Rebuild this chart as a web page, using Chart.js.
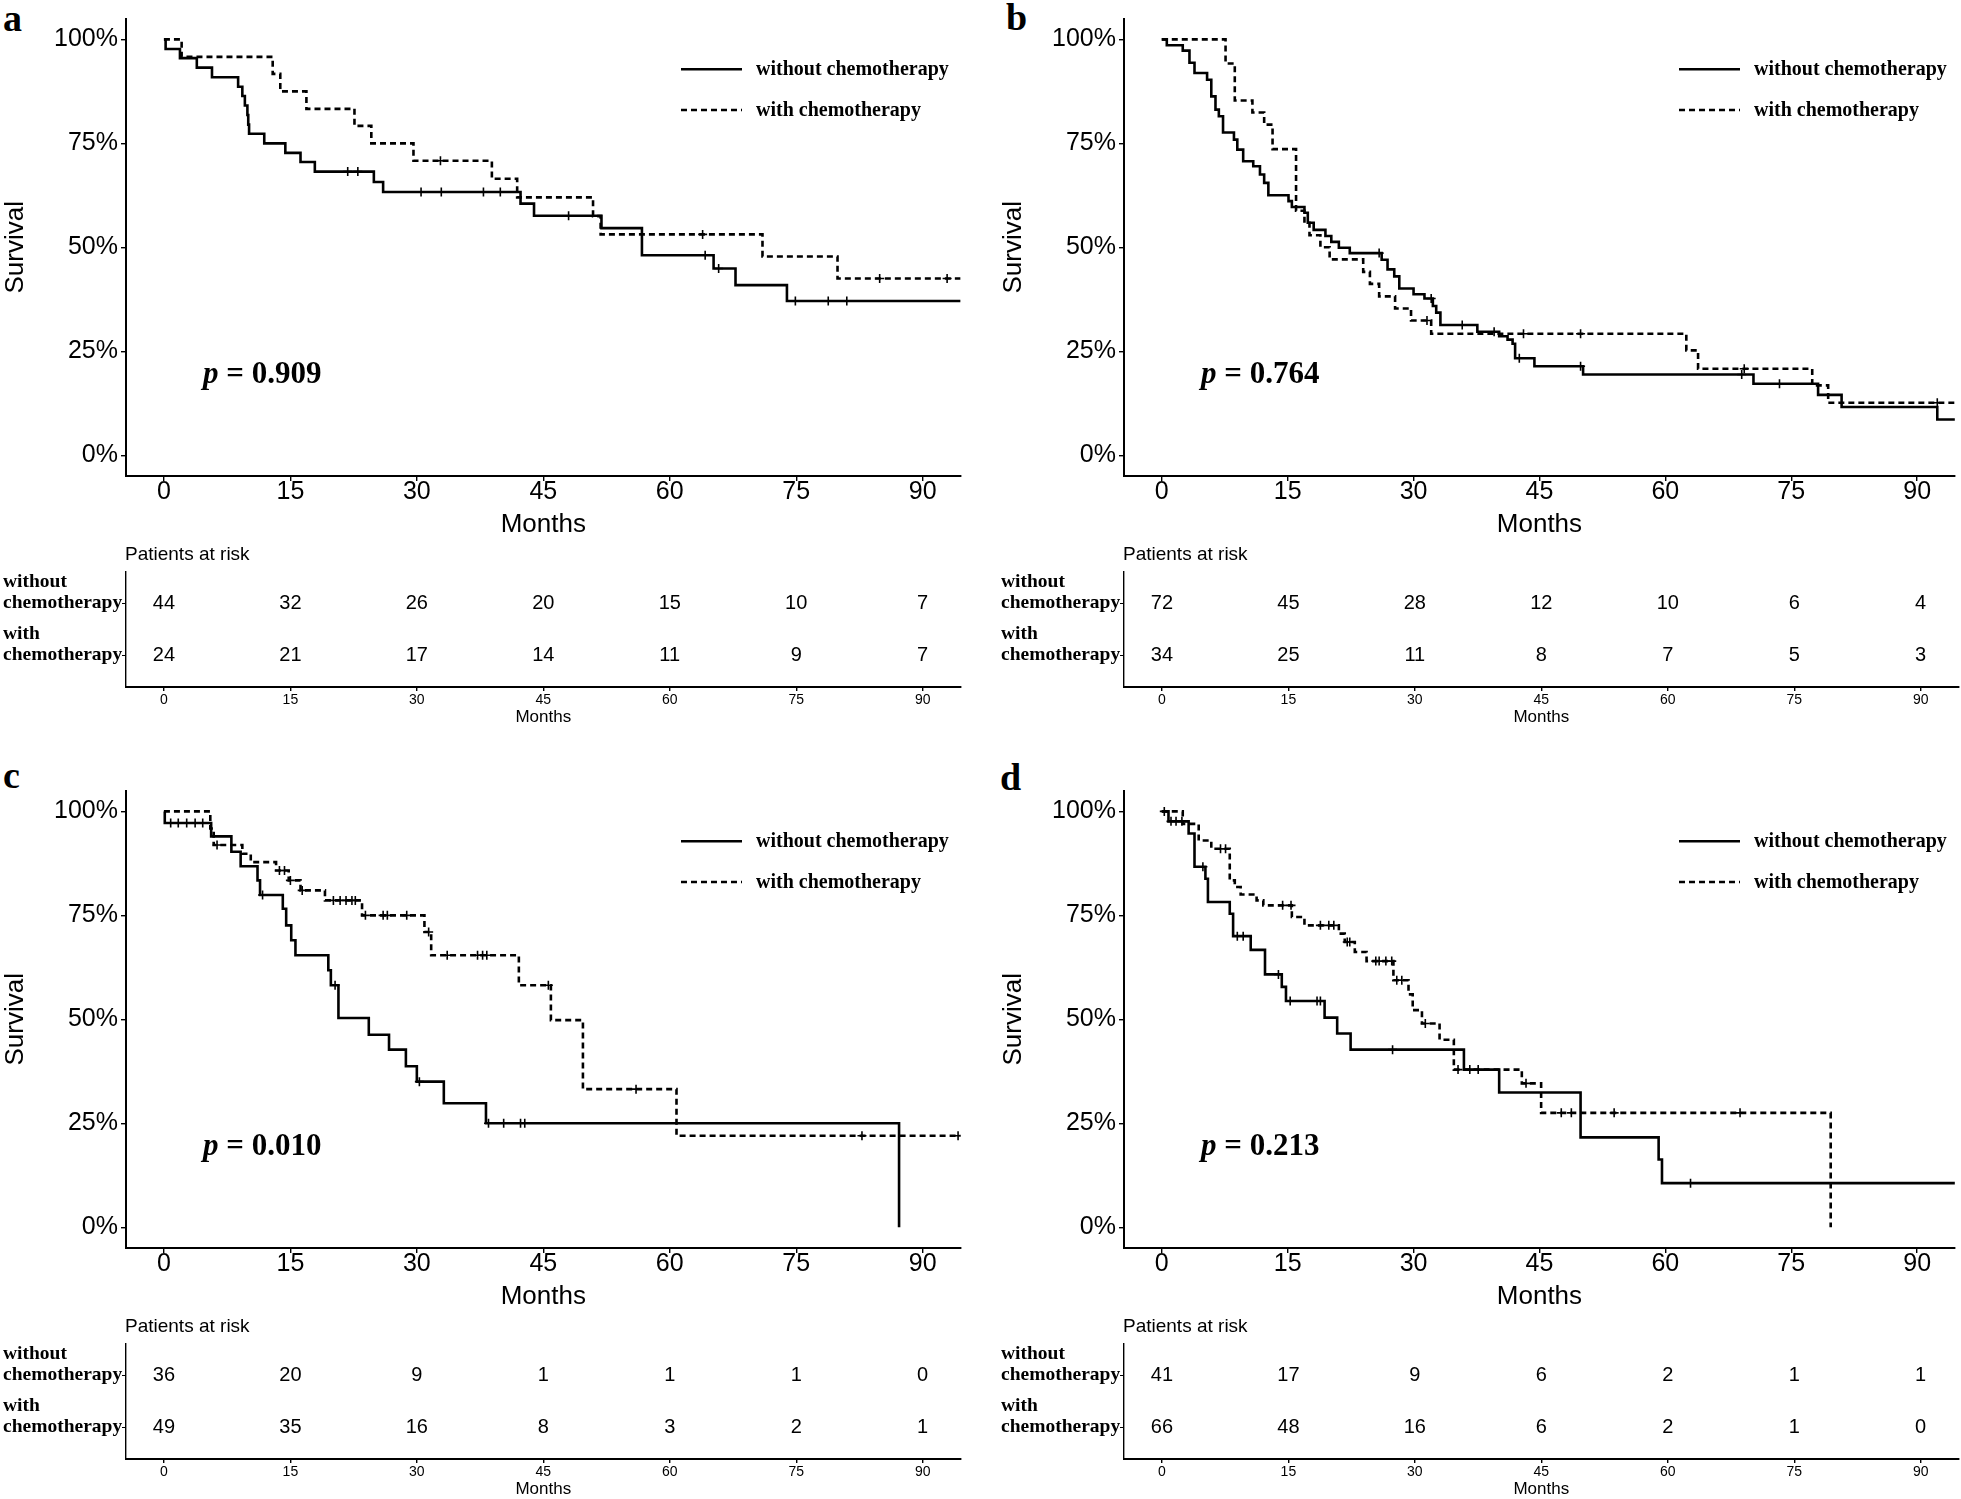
<!DOCTYPE html>
<html>
<head>
<meta charset="utf-8">
<script src="https://cdn.jsdelivr.net/npm/chart.js@4.4.1/dist/chart.umd.min.js"></script>
<style>
  body { margin: 0; background: #fff; width: 1961px; height: 1499px; position: relative; overflow: hidden; }
  canvas { position: absolute; }
  .tag { position: absolute; font: bold 38px "Liberation Serif"; line-height: 38px; color: #000; }
</style>
</head>
<body>
<div class="tag" style="left:3px;top:-1px">a</div>
<div class="tag" style="left:1006px;top:-2px">b</div>
<div class="tag" style="left:3px;top:756px">c</div>
<div class="tag" style="left:1000px;top:758px">d</div>
<script>
// axis ticks shared by all panels
const xTicks = [0, 15, 30, 45, 60, 75, 90];
const yTicks = [0, 25, 50, 75, 100];
const groupLabels = ['without chemotherapy', 'with chemotherapy'];
const rowLabels = [['with', 'chemotherapy'], ['without', 'chemotherapy']];

// panel a
const aNoT = [0, 0.2, 1.9, 3.9, 5.7, 8.8, 9.3, 9.6, 9.9, 10.0, 10.1, 11.9, 14.4, 16.2, 17.9, 24.9, 26.0, 42.3, 43.9, 51.9, 56.7, 65.2, 67.8, 73.9, 94.5];
const aNoS = [100, 97.7, 95.5, 93.2, 90.9, 88.6, 86.4, 84.1, 81.8, 79.5, 77.3, 75.0, 72.7, 70.5, 68.2, 65.7, 63.3, 60.5, 57.6, 54.6, 48.1, 44.9, 40.9, 37.1, 37.1];
const aNoC = [21.8, 23.0, 30.5, 32.9, 37.9, 39.9, 48.0, 64.2, 65.8, 74.9, 78.8, 81.0];
const aYesT = [0, 2.1, 12.9, 13.8, 16.9, 22.6, 24.6, 29.6, 38.9, 41.9, 50.9, 51.8, 71.0, 79.9, 94.5];
const aYesS = [100, 95.8, 91.7, 87.5, 83.3, 79.2, 75.0, 70.8, 66.5, 62.0, 57.5, 53.1, 47.8, 42.5, 42.5];
const aYesC = [32.8, 63.9, 84.9, 92.9];
const aRiskNo = [44, 32, 26, 20, 15, 10, 7];
const aRiskYes = [24, 21, 17, 14, 11, 9, 7];

// panel b
const bNoT = [0, 0.6, 2.5, 3.3, 3.9, 5.4, 5.9, 6.4, 6.8, 7.3, 8.6, 9.0, 9.7, 10.9, 11.7, 12.2, 12.7, 15.1, 15.5, 17.0, 17.4, 18.1, 19.5, 20.2, 21.1, 22.4, 26.2, 26.9, 27.7, 28.3, 30.0, 31.3, 32.3, 32.7, 33.2, 37.6, 40.2, 41.2, 41.8, 42.1, 44.4, 50.2, 70.5, 78.2, 81.0, 92.4, 94.5];
const bNoS = [100, 98.6, 97.3, 94.4, 91.9, 90.3, 86.3, 83.1, 81.5, 77.6, 75.9, 73.5, 70.7, 69.5, 67.5, 65.5, 62.5, 61.1, 59.7, 58.3, 55.9, 54.2, 52.7, 51.3, 49.9, 48.6, 47.0, 44.7, 43.0, 40.1, 38.7, 37.7, 35.9, 34.3, 31.3, 29.7, 28.6, 27.8, 26.8, 23.3, 21.4, 19.4, 17.2, 14.5, 11.6, 8.6, 8.6];
const bNoC = [25.9, 32.1, 35.8, 39.6, 42.6, 49.9, 69.1, 73.6];
const bYesT = [0, 7.6, 8.7, 10.8, 12.2, 13.2, 16.0, 17.0, 17.6, 18.9, 20.0, 24.0, 24.8, 25.9, 27.8, 29.7, 32.1, 62.5, 63.9, 77.5, 79.4, 94.5];
const bYesS = [100, 94.2, 85.3, 82.4, 79.5, 73.6, 58.8, 55.9, 52.9, 50.0, 47.1, 44.1, 41.2, 38.2, 35.3, 32.4, 29.2, 25.2, 20.8, 16.8, 12.6, 12.6];
const bYesC = [31.6, 43.1, 49.9, 69.4, 92.4];
const bRiskNo = [72, 45, 28, 12, 10, 6, 4];
const bRiskYes = [34, 25, 11, 8, 7, 5, 3];

// panel c
const cNoT = [0, 0.1, 5.6, 8.0, 9.1, 11.1, 11.4, 14.1, 14.5, 15.1, 15.6, 19.5, 19.8, 20.7, 24.3, 26.7, 28.7, 30.0, 33.2, 38.2, 87.2];
const cNoS = [100, 97.2, 94.0, 90.3, 86.8, 83.4, 79.9, 76.6, 72.6, 69.0, 65.4, 61.8, 58.2, 50.3, 46.3, 42.7, 38.7, 35.0, 29.8, 25.0, 0];
const cNoC = [0.8, 1.7, 2.7, 3.7, 4.6, 11.7, 20.3, 30.3, 38.5, 40.3, 42.3, 42.8];
const cYesT = [0, 5.5, 5.9, 9.3, 10.3, 13.3, 14.8, 16.2, 19.1, 23.5, 30.9, 31.7, 42.1, 45.9, 49.7, 60.8, 94.5];
const cYesS = [100, 95.9, 91.9, 89.8, 87.8, 85.8, 83.4, 81.0, 78.6, 75.0, 71.0, 65.4, 58.2, 49.8, 33.2, 22.0, 22.0];
const cYesC = [6.3, 13.7, 14.3, 15.0, 16.4, 20.1, 20.9, 21.6, 22.3, 22.7, 23.9, 26.0, 26.5, 28.8, 31.4, 33.6, 37.2, 37.8, 38.3, 45.6, 56.0, 82.8, 94.2];
const cRiskNo = [36, 20, 9, 1, 1, 1, 0];
const cRiskYes = [49, 35, 16, 8, 3, 2, 1];

// panel d
const dNoT = [0, 0.8, 3.2, 3.9, 5.2, 5.5, 8.1, 8.5, 10.6, 12.3, 14.3, 14.8, 19.4, 20.9, 22.5, 36.0, 40.2, 49.9, 59.2, 59.6, 94.5];
const dNoS = [100, 97.6, 94.7, 86.7, 83.8, 78.2, 75.4, 70.0, 66.7, 60.8, 57.8, 54.4, 50.4, 46.6, 42.7, 37.9, 32.4, 21.6, 16.3, 10.6, 10.6];
const dNoC = [0.3, 1.1, 1.7, 2.4, 4.9, 9.0, 9.7, 13.9, 15.3, 18.5, 18.9, 27.5, 63.0];
const dYesT = [0, 2.5, 4.4, 5.9, 8.1, 8.7, 9.4, 11.3, 12.1, 15.5, 17.0, 21.1, 21.8, 23.0, 24.4, 27.6, 29.4, 29.9, 31.0, 33.1, 34.8, 42.9, 45.2, 79.7];
const dYesS = [100, 97.0, 93.0, 91.0, 83.4, 81.8, 80.0, 78.6, 77.4, 74.6, 72.6, 70.6, 68.6, 66.2, 64.0, 59.4, 56.0, 52.2, 49.0, 45.1, 37.9, 34.6, 27.5, 0];
const dYesC = [7.0, 7.6, 14.4, 15.4, 18.9, 19.9, 20.5, 22.1, 22.4, 25.5, 25.9, 26.7, 27.4, 28.0, 28.6, 31.4, 35.3, 36.7, 37.7, 43.4, 47.6, 48.8, 53.9, 68.9];
const dRiskNo = [41, 17, 9, 6, 2, 1, 1];
const dRiskYes = [66, 48, 16, 6, 2, 1, 0];

const panels = [
  { left: 0,   top: 0,   w: 980, p: '0.909', noT: aNoT, noS: aNoS, noC: aNoC, yesT: aYesT, yesS: aYesS, yesC: aYesC, riskNo: aRiskNo, riskYes: aRiskYes },
  { left: 998, top: 0,   w: 963, p: '0.764', noT: bNoT, noS: bNoS, noC: bNoC, yesT: bYesT, yesS: bYesS, yesC: bYesC, riskNo: bRiskNo, riskYes: bRiskYes },
  { left: 0,   top: 772, w: 980, p: '0.010', noT: cNoT, noS: cNoS, noC: cNoC, yesT: cYesT, yesS: cYesS, yesC: cYesC, riskNo: cRiskNo, riskYes: cRiskYes },
  { left: 998, top: 772, w: 963, p: '0.213', noT: dNoT, noS: dNoS, noC: dNoC, yesT: dYesT, yesS: dYesS, yesC: dYesC, riskNo: dRiskNo, riskYes: dRiskYes }
];

const xMin = -4.5, xMax = 94.5;
const plotWidth = 834.6;   // pixel width of the plotting area

Chart.defaults.font.family = '"Liberation Sans", Arial, sans-serif';
Chart.defaults.color = '#000';

function steps(T, S) { return T.map((t, i) => ({ x: t, y: S[i] })); }
// censor marks sit on the curve: take the survival level in force at that time
function marks(T, S, C) {
  return C.map(c => {
    let s = S[0];
    for (let i = 0; i < T.length; i++) if (T[i] <= c) s = S[i];
    return { x: c, y: s };
  });
}

function makeCanvas(left, top, w, h) {
  const cv = document.createElement('canvas');
  cv.width = w; cv.height = h;
  cv.style.left = left + 'px'; cv.style.top = top + 'px';
  cv.style.width = w + 'px'; cv.style.height = h + 'px';
  document.body.appendChild(cv);
  return cv;
}

// legend + p value inside the survival plot
const kmDecor = {
  id: 'kmDecor',
  afterDatasetsDraw(chart, args, opts) {
    const ctx = chart.ctx, a = chart.chartArea;
    ctx.save();
    ctx.fillStyle = '#000'; ctx.strokeStyle = '#000';
    [0, 1].forEach(i => {
      const ds = chart.data.datasets[i];
      const y = a.top + 50.7 + i * 40.7;
      ctx.lineWidth = ds.borderWidth;
      ctx.setLineDash(ds.borderDash || []);
      ctx.beginPath(); ctx.moveTo(a.left + 555, y); ctx.lineTo(a.left + 616, y); ctx.stroke();
      ctx.setLineDash([]);
      ctx.font = 'bold 20px "Liberation Serif"';
      ctx.textAlign = 'left'; ctx.textBaseline = 'middle';
      ctx.fillText(ds.label, a.left + 630, y + 1);
    });
    ctx.textBaseline = 'alphabetic';
    ctx.font = 'italic bold 31px "Liberation Serif"';
    ctx.fillText('p', a.left + 77, a.top + 364);
    const w = ctx.measureText('p').width;
    ctx.font = 'bold 31px "Liberation Serif"';
    ctx.fillText(' = ' + opts.p, a.left + 77 + w, a.top + 364);
    ctx.restore();
  }
};

// numbers at risk + table heading
const riskText = {
  id: 'riskText',
  afterDatasetsDraw(chart) {
    const ctx = chart.ctx, a = chart.chartArea;
    ctx.save();
    ctx.fillStyle = '#000';
    ctx.font = '20px "Liberation Sans"';
    ctx.textAlign = 'center'; ctx.textBaseline = 'middle';
    chart.data.datasets.forEach((ds, i) => {
      chart.getDatasetMeta(i).data.forEach((pt, j) => ctx.fillText(String(ds.data[j].n), pt.x, pt.y));
    });
    ctx.font = '19px "Liberation Sans"';
    ctx.textAlign = 'left';
    ctx.fillText('Patients at risk', a.left - 1, a.top - 17);
    ctx.restore();
  }
};

const axisGrid = { drawOnChartArea: false, drawTicks: true, tickLength: 5, color: '#000', lineWidth: 1.4 };
const axisBorder = { display: true, color: '#000', width: 2 };

panels.forEach(pn => {
  const padRight = pn.w - 126 - plotWidth;

  new Chart(makeCanvas(pn.left, pn.top, pn.w, 545), {
    type: 'scatter',
    data: {
      datasets: [
        { label: groupLabels[0], data: steps(pn.noT, pn.noS), showLine: true, stepped: true,
          borderColor: '#000', borderWidth: 2.6, pointRadius: 0 },
        { label: groupLabels[1], data: steps(pn.yesT, pn.yesS), showLine: true, stepped: true,
          borderColor: '#000', borderWidth: 2.6, borderDash: [6, 4], pointRadius: 0 },
        { data: marks(pn.noT, pn.noS, pn.noC), pointStyle: 'cross', pointRadius: 4.5,
          borderColor: '#000', borderWidth: 1.6 },
        { data: marks(pn.yesT, pn.yesS, pn.yesC), pointStyle: 'cross', pointRadius: 4.5,
          borderColor: '#000', borderWidth: 1.6 }
      ]
    },
    options: {
      responsive: false, animation: false, devicePixelRatio: 1,
      layout: { padding: { top: 18.6, right: padRight, left: 0, bottom: 0 } },
      plugins: { legend: { display: false }, tooltip: { enabled: false }, kmDecor: { p: pn.p } },
      scales: {
        x: {
          type: 'linear', min: xMin, max: xMax,
          afterBuildTicks: s => { s.ticks = xTicks.map(v => ({ value: v })); },
          afterFit: s => { s.height = 69; },
          grid: axisGrid, border: axisBorder,
          ticks: { font: { size: 25 }, padding: -4, maxRotation: 0 },
          title: { display: true, text: 'Months', font: { size: 26 }, padding: { top: 0, bottom: 5 } }
        },
        y: {
          type: 'linear', min: -5, max: 105,
          afterBuildTicks: s => { s.ticks = yTicks.map(v => ({ value: v })); },
          afterFit: s => { s.width = 126; },
          grid: axisGrid, border: axisBorder,
          ticks: { font: { size: 25 }, padding: 3, callback: v => v + '%' },
          title: { display: true, text: 'Survival', font: { size: 26 }, padding: { top: 0, bottom: 0 } }
        }
      }
    },
    plugins: [kmDecor]
  });

  new Chart(makeCanvas(pn.left, pn.top + 530, pn.w, 200), {
    type: 'scatter',
    data: {
      datasets: [
        { label: groupLabels[0], data: xTicks.map((t, i) => ({ x: t, y: 2, n: pn.riskNo[i] })), pointRadius: 0 },
        { label: groupLabels[1], data: xTicks.map((t, i) => ({ x: t, y: 1, n: pn.riskYes[i] })), pointRadius: 0 }
      ]
    },
    options: {
      responsive: false, animation: false, devicePixelRatio: 1,
      layout: { padding: { top: 42, right: padRight, left: 3, bottom: 0 } },
      plugins: { legend: { display: false }, tooltip: { enabled: false } },
      scales: {
        x: {
          type: 'linear', min: xMin, max: xMax,
          afterBuildTicks: s => { s.ticks = xTicks.map(v => ({ value: v })); },
          afterFit: s => { s.height = 43; },
          grid: Object.assign({}, axisGrid, { tickLength: 4 }), border: axisBorder,
          ticks: { font: { size: 14 }, padding: 1, maxRotation: 0 },
          title: { display: true, text: 'Months', font: { size: 17 }, padding: { top: 0, bottom: 2 } }
        },
        y: {
          type: 'linear', min: 0.4, max: 2.6,
          afterBuildTicks: s => { s.ticks = [1, 2].map(v => ({ value: v })); },
          afterFit: s => { s.width = 123; },
          grid: Object.assign({}, axisGrid, { tickLength: 4, lineWidth: 1 }),
          border: { display: true, color: '#000', width: 1.4 },
          ticks: {
            crossAlign: 'far', labelOffset: -11, padding: 0,
            font: { family: '"Liberation Serif"', weight: 'bold', size: 19.5, lineHeight: 1.08 },
            callback: v => rowLabels[v - 1]
          }
        }
      }
    },
    plugins: [riskText]
  });
});
</script>
</body>
</html>
